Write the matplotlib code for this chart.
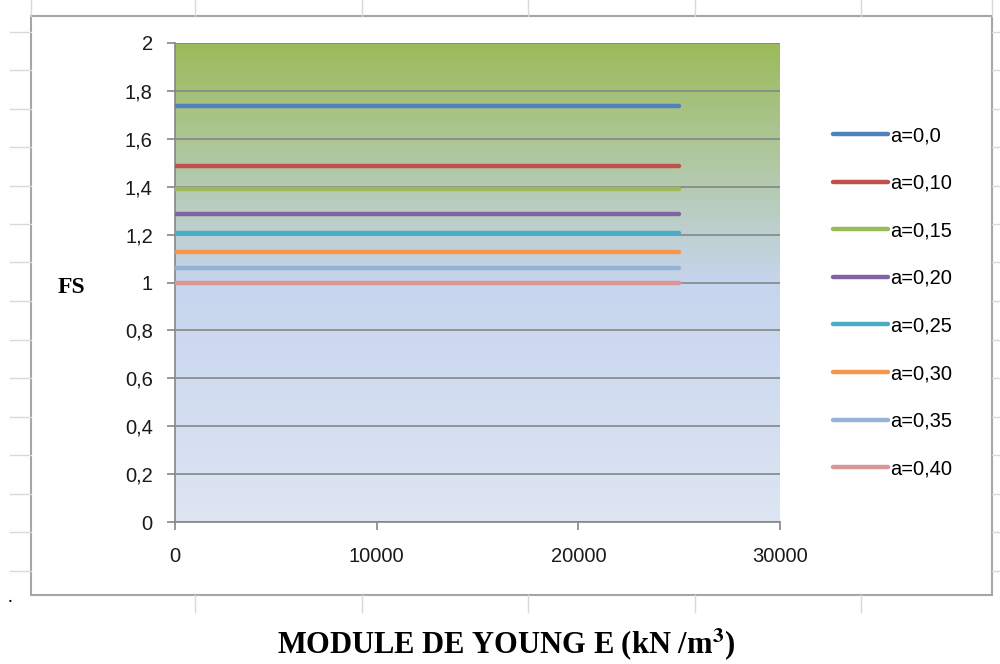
import numpy as np
import matplotlib
matplotlib.use("Agg")
import matplotlib.pyplot as plt
from matplotlib.lines import Line2D
from matplotlib.patches import Rectangle
from matplotlib.ticker import FuncFormatter

plt.rcParams["mathtext.fontset"] = "stix"

# ---- data ----
E_values = [0, 5000, 10000, 15000, 20000, 25000]
labels = ["a=0,0", "a=0,10", "a=0,15", "a=0,20", "a=0,25", "a=0,30", "a=0,35", "a=0,40"]
fs_values = [1.735, 1.487, 1.39, 1.287, 1.205, 1.127, 1.06, 1.0]
colors = ["#4F81BD", "#C0504D", "#9BBB59", "#8064A2", "#4BACC6", "#F79646", "#95B3D7", "#D99694"]
y_ticks = [0, 0.2, 0.4, 0.6, 0.8, 1.0, 1.2, 1.4, 1.6, 1.8, 2.0]
x_ticks = [0, 10000, 20000, 30000]

W, H = 1000, 664
fig = plt.figure(figsize=(W / 100, H / 100), dpi=100)
fig.patch.set_facecolor("white")

# spreadsheet background grid (decoration)
sheet = "#D9D9D9"
for xv in [195, 362, 528, 695, 861]:
    fig.add_artist(Line2D([xv / W, xv / W], [1 - 0 / H, 1 - 16 / H], color=sheet, lw=1))
    fig.add_artist(Line2D([xv / W, xv / W], [1 - 595 / H, 1 - 612 / H], color=sheet, lw=1))
for yv in np.arange(31.5, 600, 38.5):
    fig.add_artist(Line2D([10 / W, 31 / W], [1 - yv / H, 1 - yv / H], color=sheet, lw=1))
    fig.add_artist(Line2D([992 / W, 1.0], [1 - yv / H, 1 - yv / H], color=sheet, lw=1))
fig.add_artist(Line2D([31 / W, 31 / W], [1 - 0 / H, 1 - 16 / H], color=sheet, lw=1))
fig.add_artist(Line2D([992 / W, 992 / W], [1 - 0 / H, 1 - 16 / H], color=sheet, lw=1))

# chart frame
fig.add_artist(Rectangle((31 / W, 1 - 595 / H), (992 - 31) / W, (595 - 16) / H,
                         transform=fig.transFigure, facecolor="white",
                         edgecolor="#A6A6A6", lw=1.5, zorder=0))
fig.text(8 / W, 1 - 597 / H, ".", fontsize=14, family="Liberation Serif", va="center")

ax = fig.add_axes([175 / W, 1 - 522 / H, 605 / W, (522 - 43) / H])
ax.set_xlim(0, 30000)
ax.set_ylim(0, 2)

# gradient background
top = np.array([155, 187, 89]) / 255
mid = np.array([198, 213, 238]) / 255
bot = np.array([222, 229, 243]) / 255
n = 300
t = np.linspace(0, 1, n)  # 0 = top, 1 = bottom
grad = np.zeros((n, 1, 3))
for i, tv in enumerate(t):
    if tv < 0.5:
        f = tv / 0.5
        grad[i, 0] = top * (1 - f) + mid * f
    else:
        f = (tv - 0.5) / 0.5
        grad[i, 0] = mid * (1 - f) + bot * f
ax.imshow(grad, extent=[0, 1, 0, 1], transform=ax.transAxes, aspect="auto", zorder=0)

ax.set_yticks(y_ticks)
ax.set_xticks(x_ticks)
ax.yaxis.grid(True, color="#868686", lw=1.2, zorder=1)
ax.set_axisbelow(False)

for lab, v, c in zip(labels, fs_values, colors):
    ax.plot(E_values, [v] * len(E_values), color=c, lw=3.2, label=lab,
            solid_capstyle="round", zorder=3)

for s in ["top", "right"]:
    ax.spines[s].set_visible(False)
for s in ["left", "bottom"]:
    ax.spines[s].set_color("#868686")
    ax.spines[s].set_linewidth(1.2)
ax.tick_params(axis="both", direction="out", length=6, color="#868686", width=1.2,
               labelsize=14.5, labelcolor="#1a1a1a")
ax.tick_params(axis="x", pad=12)
ax.tick_params(axis="y", pad=10)
ax.yaxis.set_major_formatter(FuncFormatter(lambda v, p: ("%g" % round(v, 1)).replace(".", ",")))
ax.xaxis.set_major_formatter(FuncFormatter(lambda v, p: "%d" % v))
for tl in ax.get_xticklabels() + ax.get_yticklabels():
    tl.set_family("Liberation Sans")

leg = fig.legend(loc="upper left", bbox_to_anchor=(815 / W, 1 - 108 / H), frameon=False,
                 handlelength=2.7, handletextpad=0.15, labelspacing=1.42,
                 prop={"family": "Liberation Sans", "size": 14.5})

fig.text(71 / W, 1 - 287 / H, "FS", family="Liberation Serif", weight="bold",
         fontsize=17, ha="center", va="center")
fig.text(506 / W, 1 - 645 / H, r"MODULE DE YOUNG E (kN /m$^\mathbf{3}$)",
         family="Liberation Serif", weight="bold", fontsize=22, ha="center", va="center")

fig.savefig("out.png", dpi=100, facecolor="white")
